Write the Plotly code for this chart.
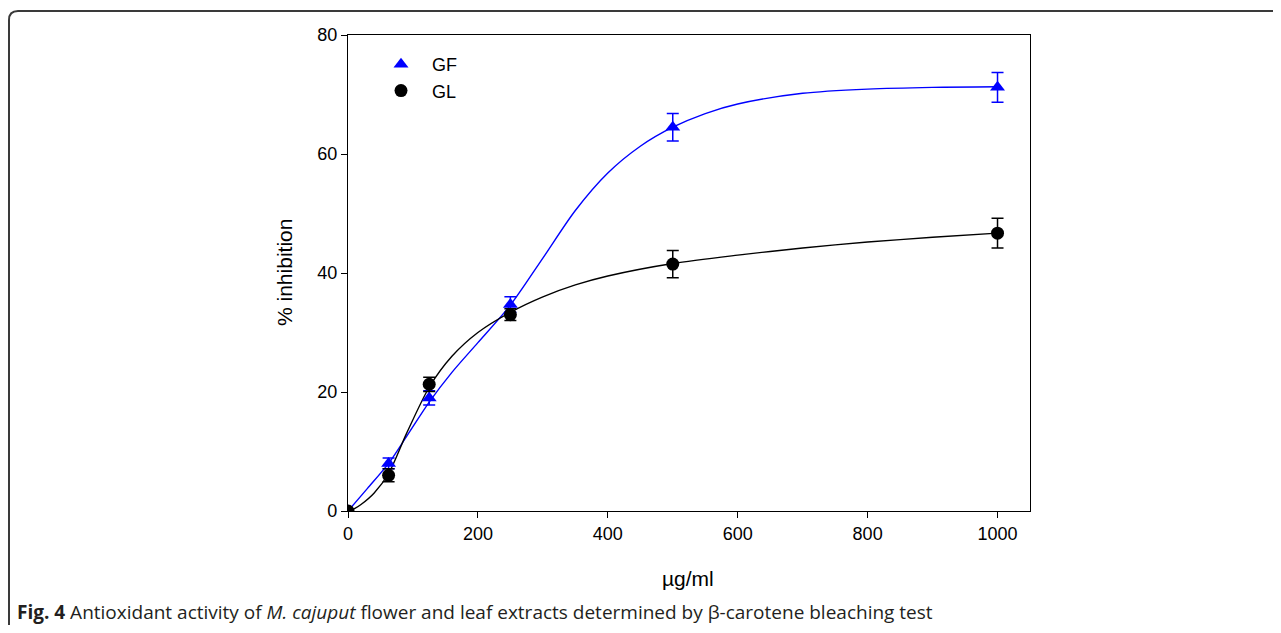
import plotly.graph_objects as go

# ---- data ----
conc = [0, 62.5, 125, 250, 500, 1000]
gf_mean = [0, 8.0, 19.0, 34.7, 64.5, 71.2]
gf_err = [0, 0.9, 1.2, 1.3, 2.3, 2.5]
gl_mean = [0, 6.0, 21.3, 33.0, 41.5, 46.7]
gl_err = [0, 1.1, 1.2, 1.0, 2.3, 2.5]

# fitted curves
gf_fit_x = [0, 30, 62.5, 90, 125, 160, 200, 250, 300, 350, 400, 450, 500, 550, 600, 700, 800, 900, 1000]
gf_fit_y = [0, 3.8, 8.0, 12.5, 18.3, 23.3, 28.3, 34.6, 42.5, 50.5, 56.8, 61.3, 64.5, 66.8, 68.4, 70.2, 70.9, 71.2, 71.3]
gl_fit_x = [0, 10, 20, 40, 62.5, 90, 125, 160, 200, 250, 300, 350, 400, 500, 600, 700, 800, 900, 1000]
gl_fit_y = [0, 0.4, 1.1, 3.0, 6.3, 13.0, 20.8, 26.0, 30.0, 33.4, 36.0, 38.0, 39.5, 41.6, 43.0, 44.2, 45.2, 46.0, 46.7]

x_ticks = [0, 200, 400, 600, 800, 1000]
y_ticks = [0, 20, 40, 60, 80]

OFF = 8  # page body margin
W, H = 1281 - 2 * OFF, 633 - 2 * OFF
L, R, T, B = 348 - OFF, 1030 - OFF, 35 - OFF, 511 - OFF  # plot area in figure pixels

def px(xp):
    # xp: screen pixel
    return (xp - OFF - L) / (R - L)

def py(yp):
    return (B - (yp - OFF)) / (B - T)

BLUE = "#0000FF"
BLACK = "#000000"

fig = go.Figure()

fig.add_trace(go.Scatter(x=gf_fit_x, y=gf_fit_y, mode="lines", line=dict(color=BLUE, width=1.4, shape="spline", smoothing=0.8),
                         showlegend=False, hoverinfo="skip"))
fig.add_trace(go.Scatter(x=gl_fit_x, y=gl_fit_y, mode="lines", line=dict(color=BLACK, width=1.4, shape="spline", smoothing=0.8),
                         showlegend=False, hoverinfo="skip"))

fig.add_trace(go.Scatter(x=conc, y=gf_mean, mode="markers", name="GF",
                         marker=dict(symbol="triangle-up", size=13, color=BLUE),
                         error_y=dict(type="data", array=gf_err, color=BLUE, thickness=1.5, width=6)))
fig.add_trace(go.Scatter(x=conc, y=gl_mean, mode="markers", name="GL",
                         marker=dict(symbol="circle", size=13, color=BLACK),
                         error_y=dict(type="data", array=gl_err, color=BLACK, thickness=1.5, width=6)))

axis_common = dict(showgrid=False, zeroline=False, showline=True, linecolor="#000000", linewidth=1.3,
                   mirror=True, ticks="outside", ticklen=6, tickwidth=1.3, tickcolor="#000000",
                   tickfont=dict(family="Liberation Sans, Arial", size=18, color="#000000"))

fig.update_xaxes(range=[0, 1050], tickvals=x_ticks, ticktext=[str(v) for v in x_ticks], **axis_common)
fig.update_yaxes(range=[0, 80], tickvals=y_ticks, ticktext=[str(v) for v in y_ticks], **axis_common)

# rounded border frame
r = 9
path = (f"M {px(9)},{py(633 + 20)} L {px(9)},{py(11 + r)} "
        f"Q {px(9)},{py(11)} {px(9 + r)},{py(11)} L {px(1281 + 20)},{py(11)}")
fig.add_shape(type="path", path=path, xref="paper", yref="paper",
              line=dict(color="#3a3a3a", width=2))

fig.add_annotation(text="% inhibition", textangle=-90, xref="paper", yref="paper",
                   x=px(284), y=py(273), showarrow=False, xanchor="center", yanchor="middle",
                   font=dict(family="Liberation Sans, Arial", size=21, color="#000000"))
fig.add_annotation(text="µg/ml", xref="paper", yref="paper",
                   x=px(688), y=py(578), showarrow=False, xanchor="center", yanchor="middle",
                   font=dict(family="Liberation Sans, Arial", size=21, color="#000000"))
fig.add_annotation(text="<b>Fig. 4</b> Antioxidant activity of <i>M. cajuput</i> flower and leaf extracts determined by β-carotene bleaching test",
                   xref="paper", yref="paper", x=px(15), y=py(612), showarrow=False,
                   xanchor="left", yanchor="middle", align="left",
                   font=dict(family="Open Sans", size=19, color="#231f20"))

fig.update_layout(
    width=W, height=H,
    margin=dict(l=L, r=W - R, t=T, b=H - B, autoexpand=False),
    paper_bgcolor="white", plot_bgcolor="white",
    showlegend=True,
    legend=dict(x=px(370), y=py(46), xanchor="left", yanchor="top", bgcolor="rgba(0,0,0,0)",
                font=dict(family="Liberation Sans, Arial", size=18, color="#000000"),
                traceorder="normal", itemwidth=52),
)

fig.write_html("out.html")
